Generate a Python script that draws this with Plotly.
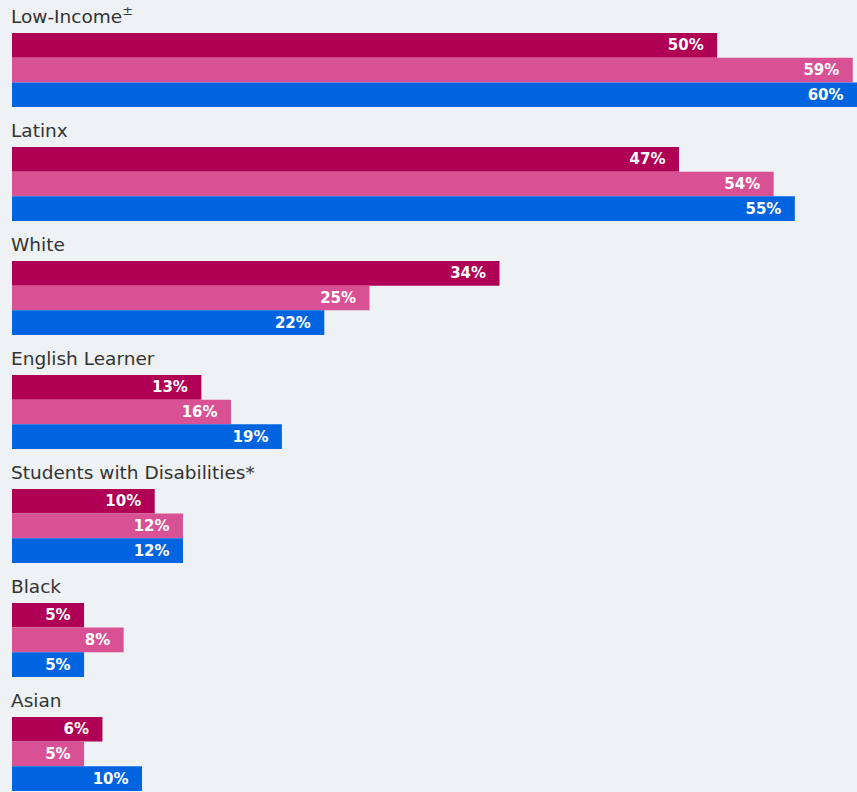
import plotly.graph_objects as go

categories = ["Low-Income<sup>±</sup>", "Latinx", "White", "English Learner",
              "Students with Disabilities*", "Black", "Asian"]

series_names = ["Series 1", "Series 2", "Series 3"]
series_colors = ["#AF0055", "#D95195", "#0064E0"]

# values
values_1 = [49.9, 47.2, 34.5, 13.4, 10.1, 5.1, 6.4]
values_2 = [59.5, 53.9, 25.3, 15.5, 12.1, 7.9, 5.1]
values_3 = [59.8, 55.4, 22.1, 19.1, 12.1, 5.1, 9.2]

# printed labels
labels_1 = ["50%", "47%", "34%", "13%", "10%", "5%", "6%"]
labels_2 = ["59%", "54%", "25%", "16%", "12%", "8%", "5%"]
labels_3 = ["60%", "55%", "22%", "19%", "12%", "5%", "10%"]

all_values = [values_1, values_2, values_3]
all_labels = [labels_1, labels_2, labels_3]

BG = "#eef2f5"

fig = go.Figure()
for name, color, vals, labs in zip(series_names, series_colors, all_values, all_labels):
    fig.add_trace(go.Bar(
        y=list(range(len(categories))),
        x=vals,
        orientation="h",
        name=name,
        marker=dict(color=color, line=dict(width=0)),
        text=[l + "\u00a0\u00a0" for l in labs],
        textposition="inside",
        insidetextanchor="end",
        constraintext="none",
        textfont=dict(family="DejaVu Sans", size=15, color="white", weight="bold"),
        hoverinfo="skip",
    ))

for i, cat in enumerate(categories):
    fig.add_annotation(
        x=0, y=i - 0.325, xref="x", yref="y",
        text=cat, showarrow=False,
        xanchor="left", yanchor="bottom",
        xshift=-3, yshift=4,
        font=dict(family="DejaVu Sans", size=18.5, color="#333333"),
    )

fig.update_layout(
    width=857, height=792,
    margin=dict(l=12, r=0, t=0, b=0),
    paper_bgcolor=BG, plot_bgcolor=BG,
    barmode="group", bargap=0.35, bargroupgap=0,
    showlegend=False,
    xaxis=dict(range=[0, 59.8], showgrid=False, zeroline=False,
               showticklabels=False, showline=False, fixedrange=True),
    yaxis=dict(range=[6.334, -0.6145], showgrid=False, zeroline=False,
               showticklabels=False, showline=False, fixedrange=True),
)

fig.write_html("out.html")
